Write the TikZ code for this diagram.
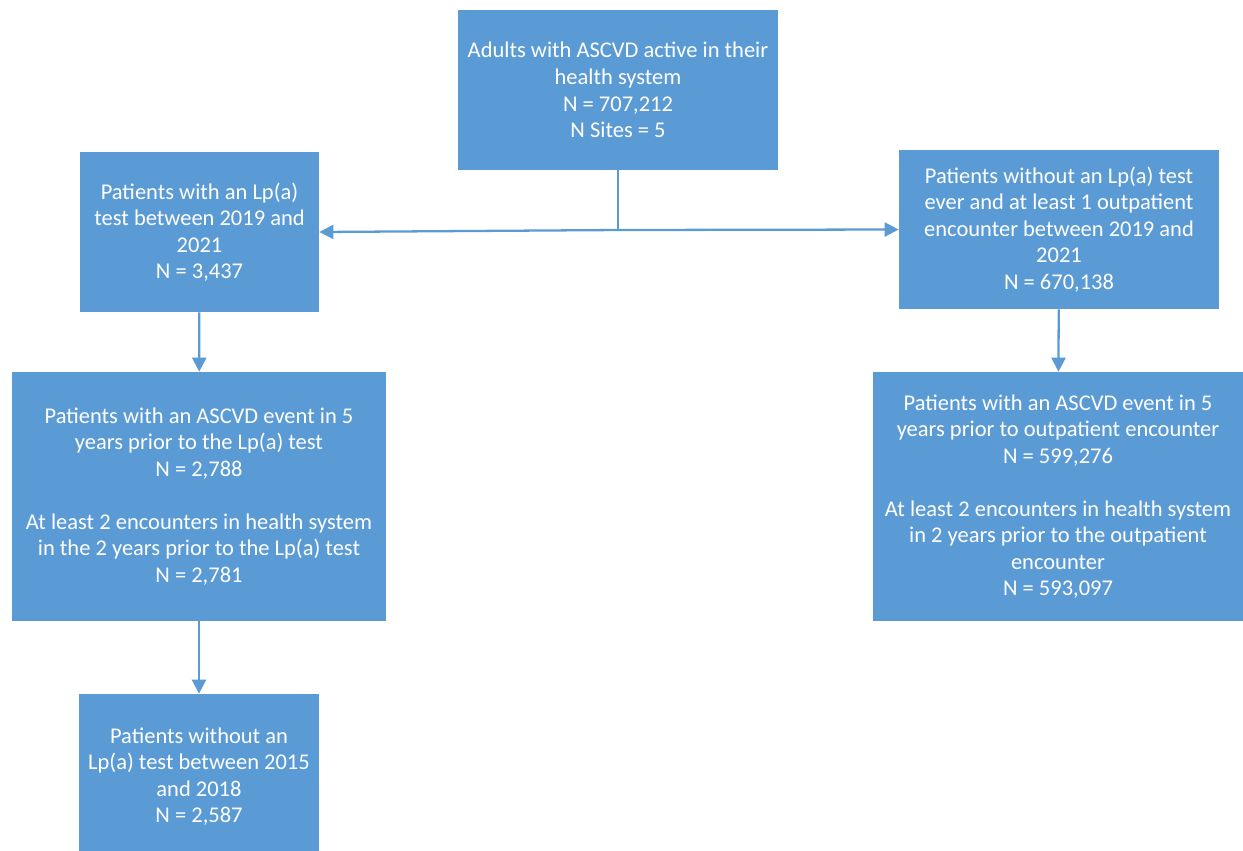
\documentclass[tikz,border=0pt]{standalone}
\usepackage{fontspec}
\setmainfont{Carlito}
\usetikzlibrary{arrows.meta}
\definecolor{boxblue}{RGB}{91,155,213}
\begin{document}
\begin{tikzpicture}[
        x=0.02cm, y=-0.02cm,
        every node/.style={fill=boxblue, text=white, align=center, inner sep=0pt,
            font=\fontsize{12.8}{15.1}\selectfont},
        box/.style={minimum width=#1},
        ar/.style={-{Triangle[length=8pt, width=8pt]}, line width=1.3pt, draw=boxblue},
        ln/.style={-, line width=1.3pt, draw=boxblue},
    ]
    \useasboundingbox (0,0) rectangle (1243,850);

    \node[box=6.4cm, minimum height=3.2cm](all) at (618,90)
        {Adults with ASCVD active in their\\health system\\N = 707,212\\N Sites = 5};
    \node[box=4.78cm, minimum height=3.2cm](test) at (199.5,232)
        {Patients with an Lp(a)\\test between 2019 and\\2021\\N = 3,437};
    \node[box=6.4cm, minimum height=3.18cm](notest) at (1059,229.5)
        {Patients without an Lp(a) test\\ever and at least 1 outpatient\\encounter between 2019 and\\2021\\N = 670,138};
    \node[box=7.48cm, minimum height=4.98cm](testev) at (199,496.5)
        {Patients with an ASCVD event in 5\\years prior to the Lp(a) test\\N = 2,788\\[15pt]At least 2 encounters in health system\\in the 2 years prior to the Lp(a) test\\N = 2,781};
    \node[box=7.4cm, minimum height=4.98cm](notestev) at (1058,496.5)
        {Patients with an ASCVD event in 5\\years prior to outpatient encounter\\N = 599,276\\[15pt]At least 2 encounters in health system\\in 2 years prior to the outpatient\\encounter\\N = 593,097};
    \node[box=4.8cm, minimum height=3.3cm](prior) at (199,776.5)
        {Patients without an\\Lp(a) test between 2015\\and 2018\\N = 2,587};

    \coordinate (split) at (618,230);

    \draw[ln] (all) -- (split);
    \draw[ar] (split) -- (test.east);
    \draw[ar] (split) -- (notest.west);
    \draw[ar] (test) -- (testev);
    \draw[ar] (notest) -- (notestev);
    \draw[ar] (testev) -- (prior);

\end{tikzpicture}
\end{document}
